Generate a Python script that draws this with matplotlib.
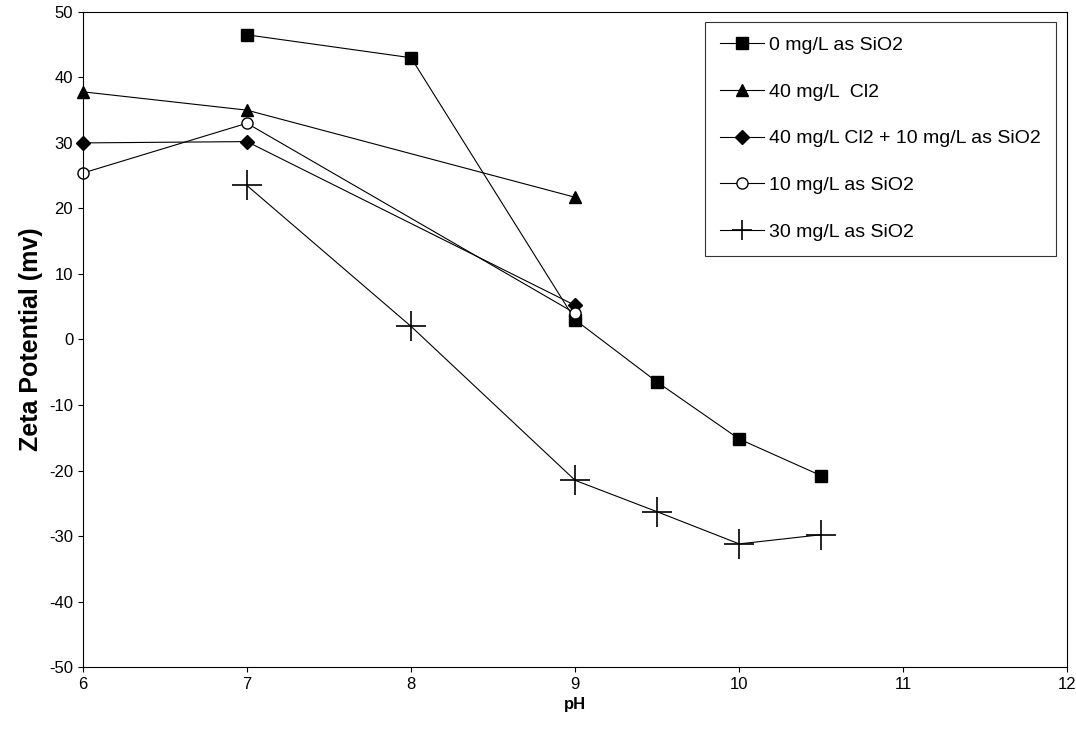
import matplotlib
matplotlib.use("Agg")
import matplotlib.pyplot as plt

plt.rcParams['font.family'] = ['Liberation Sans', 'DejaVu Sans']
plt.rcParams['axes.unicode_minus'] = False

x_sio2_0 = [7, 8, 9, 9.5, 10, 10.5]
y_sio2_0 = [46.5, 43, 3, -6.5, -15.2, -20.8]
x_cl2 = [6, 7, 9]
y_cl2 = [37.8, 35, 21.7]
x_cl2_sio2 = [6, 7, 9]
y_cl2_sio2 = [30, 30.2, 5.2]
x_sio2_10 = [6, 7, 9]
y_sio2_10 = [25.4, 33, 4]
x_sio2_30 = [7, 8, 9, 9.5, 10, 10.5]
y_sio2_30 = [23.5, 2, -21.5, -26.3, -31.2, -29.8]

fig = plt.figure(figsize=(10.76, 7.42), dpi=100)
ax = fig.add_axes([0.077, 0.101, 0.915, 0.883])

lw = 0.8
kw = dict(color='black', lw=lw, clip_on=False)
ax.plot(x_sio2_0, y_sio2_0, '-s', ms=8, label='0 mg/L as SiO2', **kw)
ax.plot(x_cl2, y_cl2, '-^', ms=8, label='40 mg/L  Cl2', **kw)
ax.plot(x_cl2_sio2, y_cl2_sio2, '-D', ms=7, label='40 mg/L Cl2 + 10 mg/L as SiO2', **kw)
ax.plot(x_sio2_10, y_sio2_10, '-o', mfc='white', ms=8, label='10 mg/L as SiO2', **kw)
ax.plot(x_sio2_30, y_sio2_30, '-+', ms=22, mew=1.2, label='30 mg/L as SiO2', **kw)

ax.set_xlim(6, 12)
ax.set_ylim(-50, 50)
ax.set_xticks(range(6, 13))
ax.set_yticks(range(-50, 51, 10))
ax.tick_params(labelsize=12, direction='out')
ax.set_xlabel('pH', fontsize=12, fontweight='bold')
ax.set_ylabel('Zeta Potential (mv)', fontsize=18, fontweight='bold')

leg = ax.legend(loc='upper right', bbox_to_anchor=(0.988, 0.985), fontsize=14,
                frameon=True, fancybox=False, edgecolor='black', labelspacing=1.5,
                handlelength=2.3, handletextpad=0.25, borderpad=0.75, borderaxespad=0,
                markerscale=1.0)
leg.get_frame().set_linewidth(0.8)
leg.legend_handles[4].set_markersize(14)

fig.savefig('out.png', dpi=100)
